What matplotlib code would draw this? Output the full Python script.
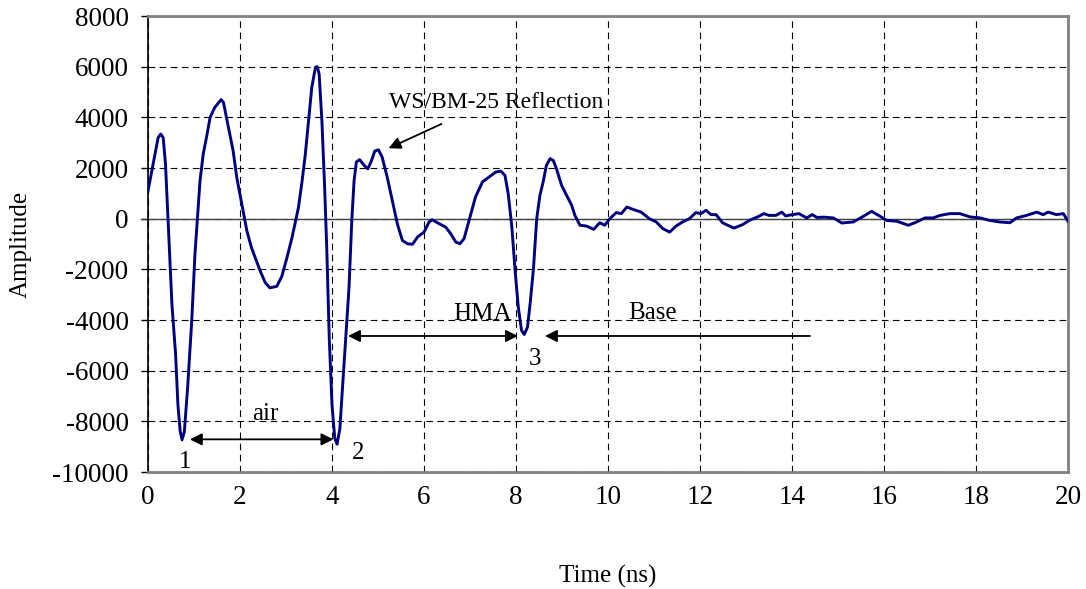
import matplotlib.pyplot as plt

plt.rcParams['font.family'] = ['Liberation Serif', 'DejaVu Serif']

# waveform (time in ns, amplitude)
time_ns = [0.0, 0.11, 0.22, 0.276, 0.33, 0.38, 0.42, 0.47, 0.52, 0.6, 0.65, 0.7, 0.74, 0.79,
           0.86, 0.95, 1.02, 1.08, 1.13, 1.2, 1.27, 1.35, 1.45, 1.59, 1.64, 1.75, 1.85, 1.93,
           2.04, 2.15, 2.25, 2.44, 2.55, 2.65, 2.8, 2.91, 3.02, 3.13, 3.27, 3.35, 3.42, 3.49,
           3.56, 3.64, 3.68, 3.72, 3.78, 3.84, 3.89, 3.94, 4.0, 4.06, 4.11, 4.17, 4.23, 4.3,
           4.37, 4.43, 4.48, 4.53, 4.6, 4.7, 4.78, 4.86, 4.93, 5.01, 5.09, 5.2, 5.31, 5.42,
           5.53, 5.64, 5.75, 5.86, 6.0, 6.11, 6.18, 6.33, 6.47, 6.58, 6.69, 6.78, 6.87, 6.98,
           7.12, 7.27, 7.41, 7.56, 7.67, 7.76, 7.83, 7.91, 7.98, 8.05, 8.12, 8.18, 8.25, 8.31,
           8.38, 8.45, 8.52, 8.59, 8.66, 8.74, 8.81, 8.88, 8.99, 9.1, 9.21, 9.28, 9.39, 9.53,
           9.69, 9.82, 9.93, 10.04, 10.18, 10.29, 10.41, 10.54, 10.72, 10.9, 11.05, 11.19,
           11.34, 11.48, 11.62, 11.77, 11.91, 12.02, 12.13, 12.24, 12.35, 12.49, 12.64, 12.74,
           12.92, 13.07, 13.25, 13.39, 13.5, 13.65, 13.78, 13.86, 14.01, 14.15, 14.32, 14.44,
           14.54, 14.7, 14.9, 15.08, 15.33, 15.51, 15.73, 15.91, 16.06, 16.28, 16.53, 16.71,
           16.89, 17.07, 17.22, 17.43, 17.65, 17.87, 18.09, 18.3, 18.52, 18.74, 18.88, 19.1,
           19.32, 19.46, 19.57, 19.75, 19.9, 20.0]
amplitude = [1100, 2150, 3200, 3340, 3200, 2150, 570, -1410, -3390, -5370, -7350, -8400, -8730, -8400,
             -6690, -4050, -1410, 170, 1490, 2550, 3200, 4000, 4390, 4700, 4590, 3600, 2680, 1620,
             570, -490, -1150, -2070, -2530, -2730, -2670, -2270, -1540, -750, 440, 1490, 2550, 3870,
             5180, 5980, 6000, 5710, 3870, 1230, -1410, -4710, -7350, -8670, -8900, -8300, -6600, -4670,
             -2700, -70, 1510, 2240, 2330, 2100, 1970, 2300, 2670, 2720, 2430, 1640, 720, -200,
             -860, -990, -1010, -720, -530, -130, -40, -200, -330, -590, -920, -990, -790, -70,
             860, 1450, 1640, 1840, 1880, 1710, 990, -330, -2040, -3490, -4410, -4570, -4280, -3300,
             -1970, 0, 920, 1450, 2100, 2370, 2300, 1970, 1320, 920, 530, 130, -260, -290,
             -420, -160, -260, 0, 240, 200, 460, 370, 260, 0, -130, -390,
             -530, -290, -130, 0, 240, 200, 330, 160, 160, -160, -290, -370,
             -240, -70, 70, 200, 130, 130, 260, 110, 160, 200, 30, 160,
             50, 60, 30, -170, -130, 50, 290, 100, -70, -100, -260, -130,
             30, 30, 130, 200, 200, 70, 30, -70, -130, -160, 30, 130,
             260, 160, 260, 160, 200, -100]

x_ticks = list(range(0, 21, 2))
y_ticks = list(range(-10000, 8001, 2000))

fig = plt.figure(figsize=(10.86, 5.89), dpi=100)
ax = fig.add_axes([0.1363, 0.1986, 0.8471, 0.7742])

ax.plot(time_ns, amplitude, color='#000080', lw=2.1, zorder=3)
ax.axhline(0, xmin=-0.008, color='#404040', lw=1.0, zorder=2, clip_on=False)

ax.set_xlim(0, 20)
ax.set_ylim(-10000, 8000)
ax.set_xticks(x_ticks)
ax.set_yticks(y_ticks)
ax.set_xticklabels([str(v) for v in x_ticks])
ax.set_yticklabels([str(v) for v in y_ticks])
ax.tick_params(axis='x', length=0, pad=9, labelsize=19.5)
ax.tick_params(axis='y', direction='out', length=5, width=1, pad=9, labelsize=19.5)
ax.grid(True, color='black', ls=(0, (6, 4)), lw=0.8)

for side in ['top', 'right', 'bottom']:
    ax.spines[side].set_color('#808080')
    ax.spines[side].set_linewidth(2)
ax.spines['left'].set_color('black')
ax.spines['left'].set_linewidth(1.2)

ax.set_xlabel('Time (ns)', fontsize=18)
ax.set_ylabel('Amplitude', fontsize=18)
ax.xaxis.set_label_coords(0.5, -0.204)
ax.yaxis.set_label_coords(-0.126, 0.5)

arrow = dict(arrowstyle='<|-|>', color='black', lw=1.3, mutation_scale=18,
             shrinkA=0, shrinkB=0)
one_way = dict(arrowstyle='-|>', color='black', lw=1.3, mutation_scale=18,
               shrinkA=0, shrinkB=0)
ax.annotate('', xy=(0.91, -8710), xytext=(4.03, -8710), arrowprops=arrow)
ax.annotate('', xy=(4.35, -4630), xytext=(8.04, -4630), arrowprops=arrow)
ax.annotate('', xy=(8.63, -4630), xytext=(14.39, -4630), arrowprops=one_way)
ax.annotate('', xy=(5.23, 2780), xytext=(6.38, 3740), arrowprops=one_way)

ax.text(7.57, 4570, 'WS/BM-25 Reflection', fontsize=17, ha='center', va='center')
ax.text(2.54, -7700, 'air', fontsize=18, ha='center', va='center')
ax.text(7.28, -3770, 'HMA', fontsize=18, ha='center', va='center')
ax.text(10.96, -3730, 'Base', fontsize=18, ha='center', va='center')
ax.text(0.8, -9600, '1', fontsize=18, ha='center', va='center')
ax.text(4.57, -9250, '2', fontsize=18, ha='center', va='center')
ax.text(8.41, -5540, '3', fontsize=18, ha='center', va='center')

fig.savefig('out.png', dpi=100)
